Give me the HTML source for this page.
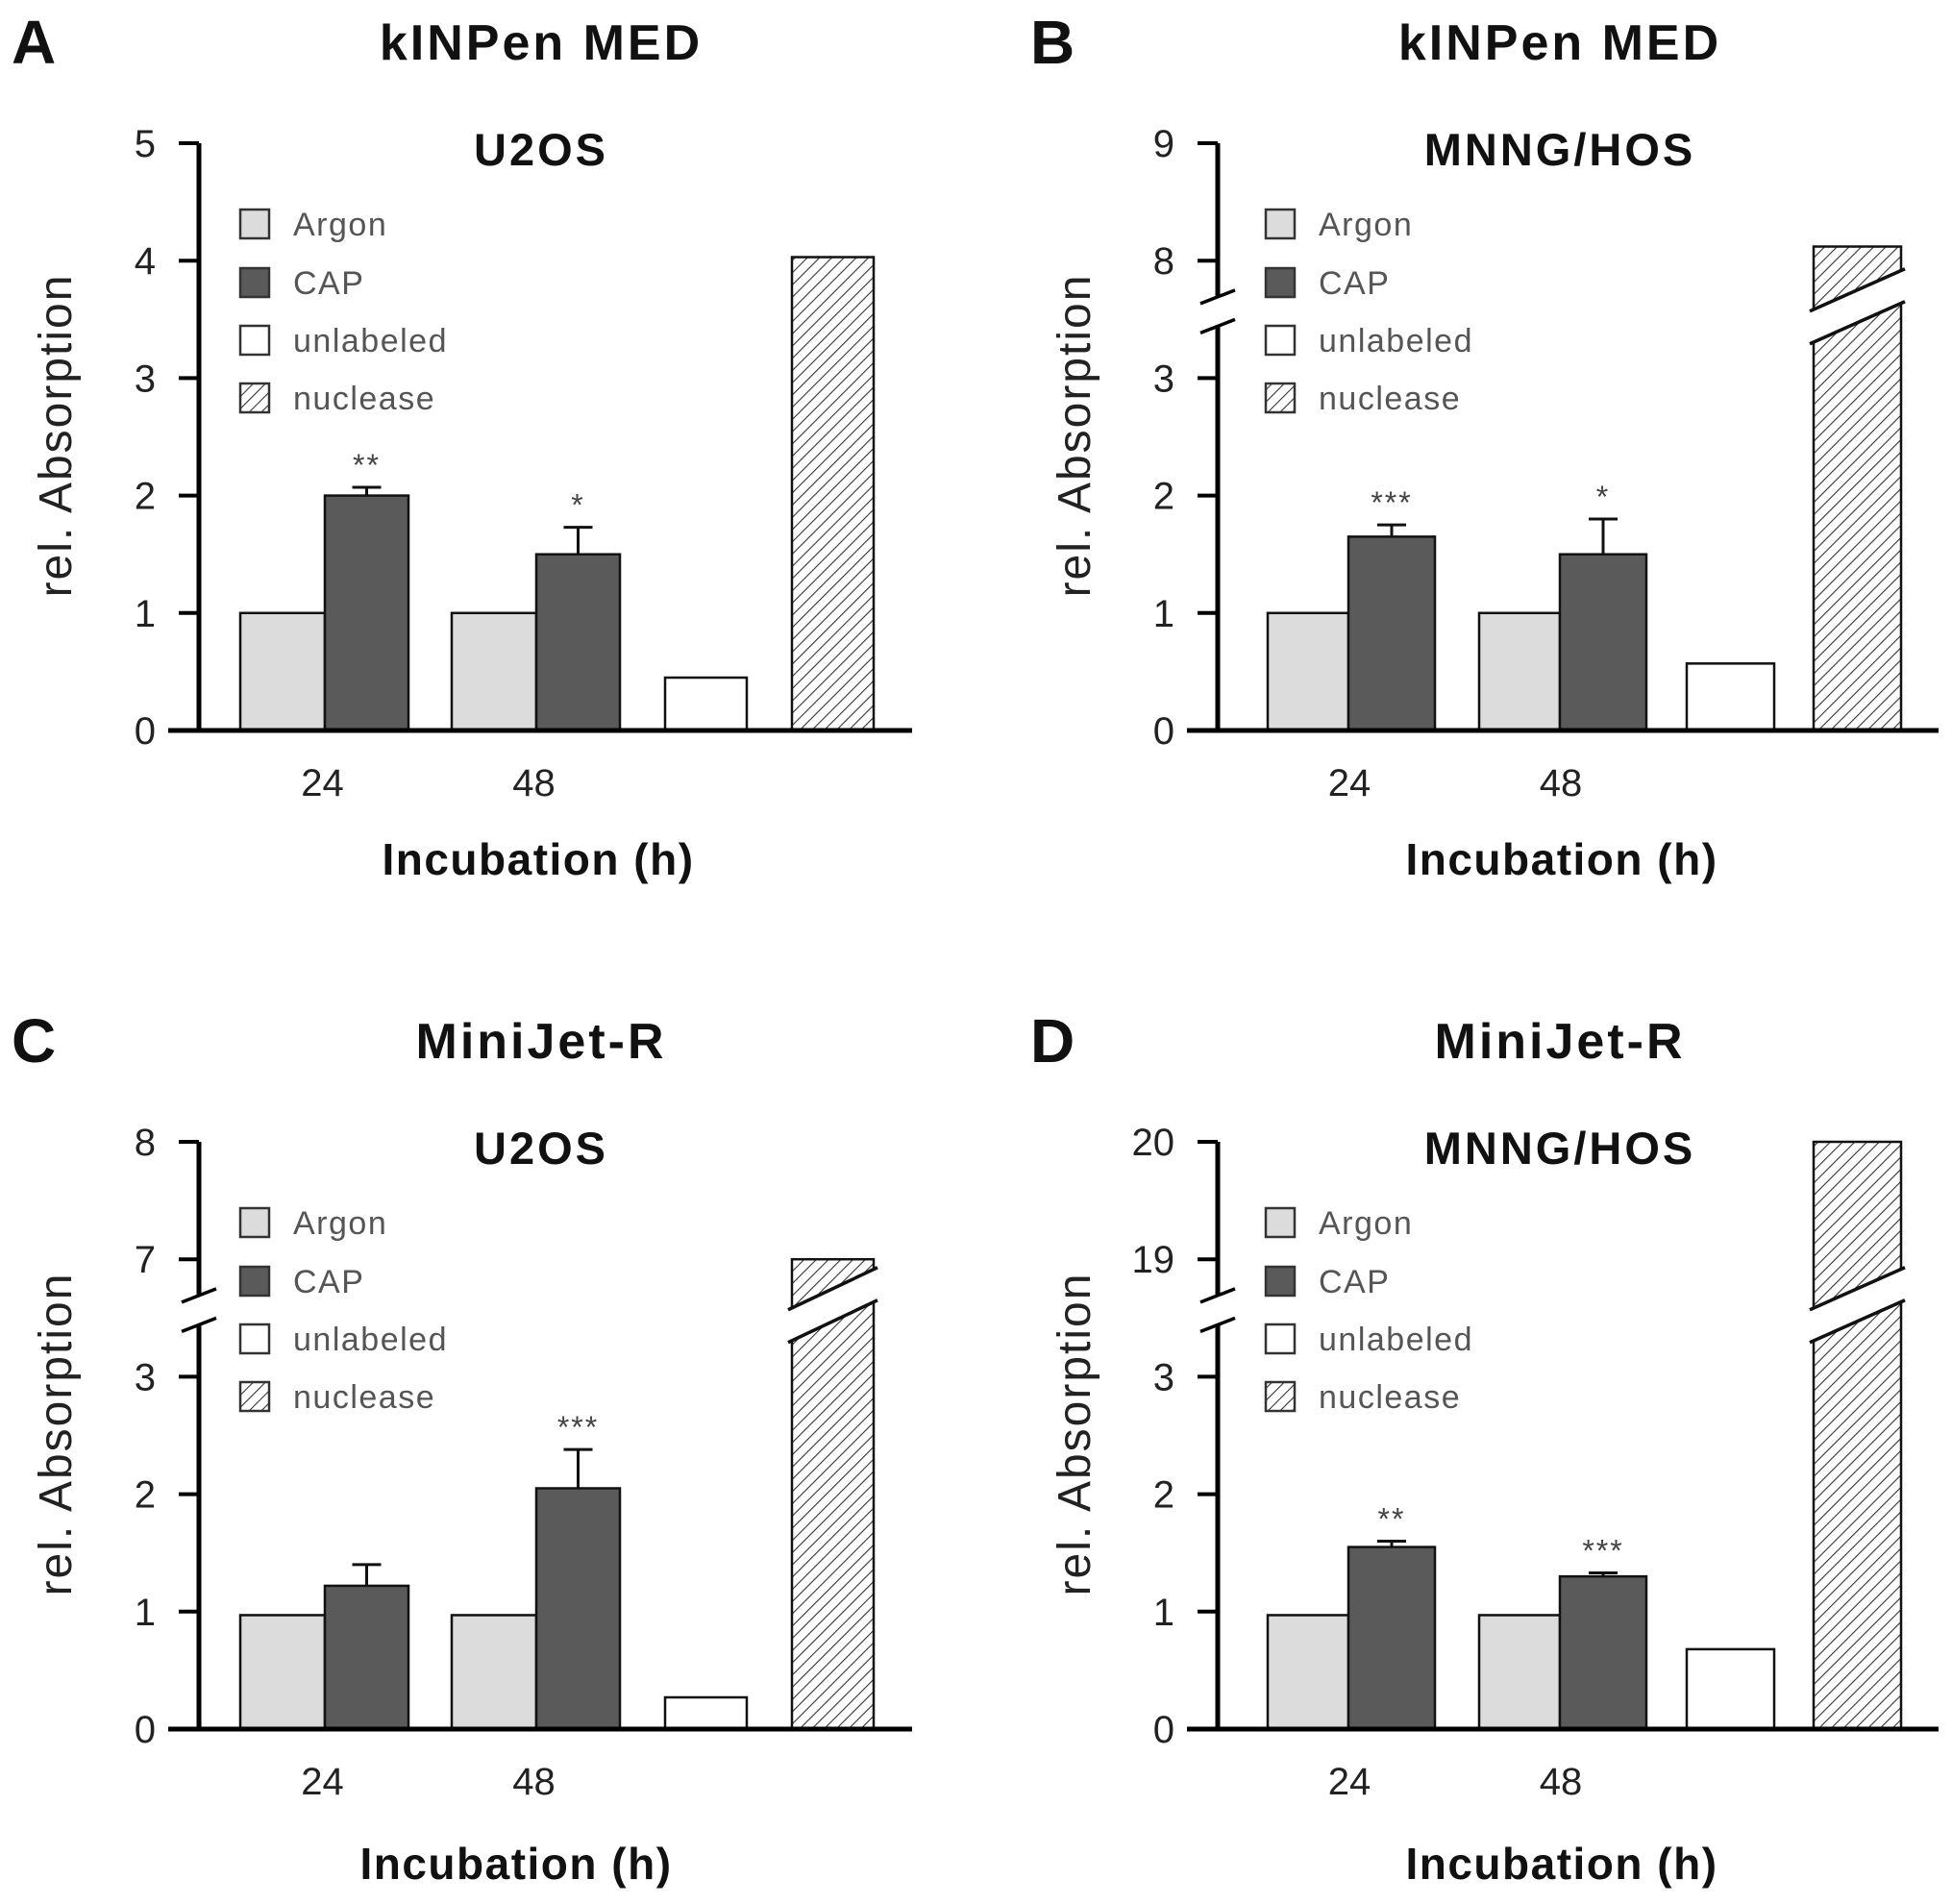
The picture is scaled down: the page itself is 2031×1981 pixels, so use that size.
<!DOCTYPE html>
<html><head><meta charset="utf-8"><style>
html,body{margin:0;padding:0;background:#fff;}
svg{display:block;font-family:"Liberation Sans",Arial,sans-serif;}
</style></head><body>
<svg id="fig" width="2031" height="1981" viewBox="0 0 2031 1981" xmlns="http://www.w3.org/2000/svg">
<defs>
<pattern id="hatch" patternUnits="userSpaceOnUse" width="9" height="9" patternTransform="rotate(45)">
<rect width="9" height="9" fill="#fff"/>
<line x1="0" y1="0" x2="0" y2="9" stroke="#333" stroke-width="2.2"/>
</pattern>
</defs>
</svg>
<script>
// ---- data ----
const panelLetters = ["A","B","C","D"];
const panelTitles = ["kINPen MED","kINPen MED","MiniJet-R","MiniJet-R"];
const panelSubtitles = ["U2OS","MNNG/HOS","U2OS","MNNG/HOS"];
const tickLabelsA = ["0","1","2","3","4","5"];
const tickLabelsB = ["0","1","2","3","8","9"];
const tickLabelsC = ["0","1","2","3","7","8"];
const tickLabelsD = ["0","1","2","3","19","20"];
const timeCategories = ["24","48"];
const legendLabels = ["Argon","CAP","unlabeled","nuclease"];
const argonA = [1.0, 1.0];
const capA = [2.0, 1.5];
const capErrA = [0.07, 0.23];
const starsA = ["**","*"];
const unlabeledA = 0.45;
const nucleaseA = 4.03;
const argonB = [1.0, 1.0];
const capB = [1.65, 1.5];
const capErrB = [0.1, 0.3];
const starsB = ["***","*"];
const unlabeledB = 0.57;
const nucleaseB = 8.12;
const argonC = [0.97, 0.97];
const capC = [1.22, 2.05];
const capErrC = [0.18, 0.33];
const starsC = ["","***"];
const unlabeledC = 0.27;
const nucleaseC = 7.0;
const argonD = [0.97, 0.97];
const capD = [1.55, 1.3];
const capErrD = [0.05, 0.03];
const starsD = ["**","***"];
const unlabeledD = 0.68;
const nucleaseD = 20.0;
// upper-range start value for broken axes (null = no break)
const breakBase = [null, 8, 7, 19];

const panels = [
 {ticks:tickLabelsA, argon:argonA, cap:capA, err:capErrA, stars:starsA, unl:unlabeledA, nuc:nucleaseA},
 {ticks:tickLabelsB, argon:argonB, cap:capB, err:capErrB, stars:starsB, unl:unlabeledB, nuc:nucleaseB},
 {ticks:tickLabelsC, argon:argonC, cap:capC, err:capErrC, stars:starsC, unl:unlabeledC, nuc:nucleaseC},
 {ticks:tickLabelsD, argon:argonD, cap:capD, err:capErrD, stars:starsD, unl:unlabeledD, nuc:nucleaseD}
];

const NS = "http://www.w3.org/2000/svg";
const svg = document.getElementById("fig");
function mk(tag, attrs, parent){
  const e = document.createElementNS(NS, tag);
  for (const k in attrs) e.setAttribute(k, attrs[k]);
  (parent||svg).appendChild(e);
  return e;
}

panels.forEach((p, pi) => {
  const ox = (pi % 2) * 1060, oy = Math.floor(pi / 2) * 1039;
  const right = pi % 2 === 1;
  const g = mk("g", {transform:`translate(${ox},${oy})`});
  
  
  const axisX = 207, zeroY = 760, unit = 122.2;
  const brk = breakBase[pi];
  function yScale(v){
    let idx = v;
    if (brk !== null && v > 3.5) idx = 4 + (v - brk);
    return zeroY - idx * unit;
  }
  const bx = right ? {a:[259,479], c:[343,563], w:84, cw:90, u:[695,786], n:[827,918], xend:957}
                   : {a:[250,470], c:[338,558], w:88, cw:87, u:[692,777], n:[824,909], xend:949};
  let t = mk("text", {x:12, y:66, "font-size":64, "font-weight":"bold", fill:"#111"}, g);
  t.textContent = panelLetters[pi];
  
  
  t = mk("text", {x:563, y:62, "font-size":52, "font-weight":"bold", "text-anchor":"middle", "letter-spacing":3, fill:"#111"}, g);
  t.textContent = panelTitles[pi];
  
  
  t = mk("text", {x:563, y:172, "font-size":47, "font-weight":"bold", "text-anchor":"middle", "letter-spacing":3, fill:"#111"}, g);
  t.textContent = panelSubtitles[pi];
  
  
  t = mk("text", {x:0, y:0, "font-size":48, "text-anchor":"middle", "letter-spacing":2, fill:"#222", transform:"translate(74,453) rotate(-90)"}, g);
  t.textContent = "rel. Absorption";
  
  
  t = mk("text", {x:right?565:(pi===2?537:560), y:(pi>=2?916:910), "font-size":46, "font-weight":"bold", "text-anchor":"middle", "letter-spacing":1.5, fill:"#111"}, g);
  t.textContent = "Incubation (h)";
  
  

  function bar(x, w, v, fill, name){
    const top = yScale(v);
    const r = mk("rect", {x:x, y:top, width:w, height:zeroY-top, fill:fill, stroke:"#111", "stroke-width":2.5}, g);
    
    
    return top;
  }
  timeCategories.forEach((c, i) => {
    bar(bx.a[i], bx.w, p.argon[i], "#dcdcdc", "bar-argon-" + c + "h");
    const top = bar(bx.c[i], bx.cw, p.cap[i], "#5a5a5a", "bar-cap-" + c + "h");
    const cx = bx.c[i] + bx.cw/2;
    const ey = yScale(p.cap[i] + p.err[i]);
    const eb = mk("path", {d:`M${cx},${top} V${ey} M${cx-15},${ey} H${cx+15}`, stroke:"#111", "stroke-width":3, fill:"none"}, g);
    
    
    if (p.stars[i]) {
      const s = mk("text", {x:cx, y:ey-12, "font-size":32, "text-anchor":"middle", fill:"#444", "letter-spacing":2}, g);
      s.textContent = p.stars[i];
      
      
    }
    const xl = mk("text", {x:(bx.a[i]+bx.c[i]+bx.cw)/2 - 2, y:828, "font-size":40, "text-anchor":"middle", fill:"#222"}, g);
    xl.textContent = c;
    
    
  });
  bar(bx.u[0], bx.u[1]-bx.u[0], p.unl, "#fff", "bar-unlabeled");
  bar(bx.n[0], bx.n[1]-bx.n[0], p.nuc, "url(#hatch)", "bar-nuclease");

  if (brk === null) {
    const ya = mk("path", {d:`M${axisX},${yScale(5)} V${zeroY}`, stroke:"#000", "stroke-width":5}, g);
    
    
  } else {
    const yb1 = zeroY - 3.7*unit, yb2 = zeroY - 3.45*unit;
    const ya = mk("path", {d:`M${axisX},${yScale(brk+1)} V${yb1} M${axisX},${yb2} V${zeroY}`, stroke:"#000", "stroke-width":5, fill:"none"}, g);
    
    
    const sl = mk("path", {d:`M${axisX-18},${yb1+8} L${axisX+18},${yb1-6} M${axisX-18},${yb2+8} L${axisX+18},${yb2-6}`, stroke:"#000", "stroke-width":3.5, fill:"none"}, g);
    
    
    const x0 = bx.n[0]-4, x1 = bx.n[1]+4;
    const ym = zeroY - 3.75*unit;
    const band = mk("path", {d:`M${x0},${ym+22} L${x1},${ym-22} L${x1},${ym+12} L${x0},${ym+56} Z`, fill:"#fff", stroke:"none"}, g);
    
    
    const bl = mk("path", {d:`M${x0},${ym+22} L${x1},${ym-22} M${x0},${ym+56} L${x1},${ym+12}`, stroke:"#111", "stroke-width":3.5, fill:"none"}, g);
    
    
  }
  const xa = mk("path", {d:`M175,${zeroY} H${bx.xend}`, stroke:"#000", "stroke-width":5}, g);
  
  
  p.ticks.forEach((lab, i) => {
    const y = zeroY - i*unit;
    const tk = mk("path", {d:`M186,${y} H${axisX}`, stroke:"#000", "stroke-width":4}, g);
    
    
    const tl = mk("text", {x:162, y:y+14, "font-size":40, "text-anchor":"end", fill:"#222"}, g);
    tl.textContent = lab;
    
    
  });
  const fills = ["#dcdcdc","#5a5a5a","#fff","url(#hatch)"];
  const ly = [233,294,354,414];
  legendLabels.forEach((lab, i) => {
    const lx = right ? 257 : 250;
    const lg = mk("g", {}, g);
    
    
    mk("rect", {x:lx, y:ly[i]-15, width:30, height:30, fill:fills[i], stroke:"#333", "stroke-width":2.5}, lg);
    const lt = mk("text", {x:lx+55, y:ly[i]+12, "font-size":34, "letter-spacing":1.5, fill:"#555"}, lg);
    lt.textContent = lab;
  });
});
</script>
</body></html>
